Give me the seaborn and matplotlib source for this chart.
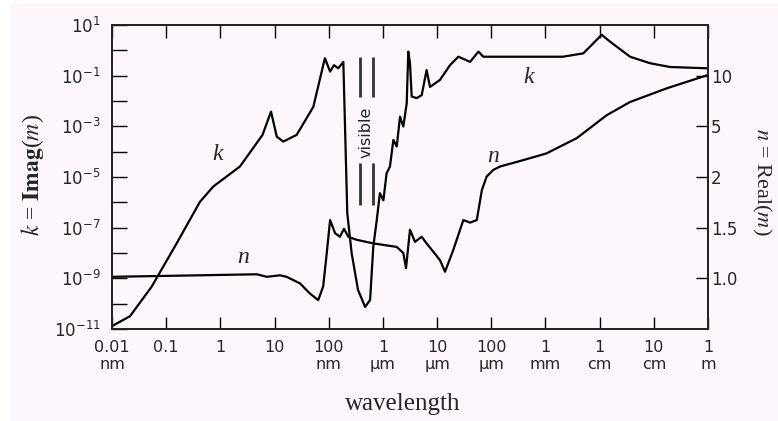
import numpy as np
import matplotlib
matplotlib.use("Agg")
import matplotlib.pyplot as plt
from matplotlib.patches import Rectangle
import seaborn as sns

# ---- data (wavelength in metres) ----
k_wavelength = [1.0e-11, 2.15e-11, 5.4e-11, 1.56e-10, 4.2e-10, 7.4e-10, 2.3e-9, 6.0e-9, 8.6e-9, 1.10e-8,
                1.45e-8, 2.56e-8, 5.2e-8, 8.5e-8, 1.06e-7, 1.25e-7, 1.50e-7, 1.86e-7, 2.2e-7, 2.65e-7,
                3.47e-7, 4.7e-7, 5.8e-7, 6.65e-7, 7.7e-7, 8.8e-7, 1.02e-6, 1.17e-6, 1.35e-6, 1.56e-6,
                1.80e-6, 2.07e-6, 2.38e-6, 2.75e-6, 2.94e-6, 3.16e-6, 3.40e-6, 4.2e-6, 5.2e-6, 6.4e-6,
                7.4e-6, 1.13e-5, 1.73e-5, 2.47e-5, 4.06e-5, 5.8e-5, 7.1e-5, 2.1e-3, 5.0e-3, 1.09e-2,
                1.56e-2, 3.64e-2, 8.5e-2, 0.199, 1.0]
k_values = [1.3e-11, 3.2e-11, 4.7e-10, 2.4e-8, 1.05e-6, 4.2e-6, 2.6e-5, 4.6e-4, 3.8e-3, 3.9e-4,
            2.5e-4, 4.6e-4, 5.9e-3, 0.49, 0.145, 0.26, 0.195, 0.35, 3.7e-7, 9.8e-9,
            3.5e-10, 7.4e-11, 1.4e-10, 1.8e-8, 2.0e-7, 2.3e-6, 1.2e-6, 1.4e-5, 2.6e-5, 2.9e-4,
            1.6e-4, 2.4e-3, 9.8e-4, 8.1e-3, 0.89, 0.31, 0.015, 0.013, 0.017, 0.166,
            0.036, 0.068, 0.26, 0.56, 0.35, 0.89, 0.56, 0.56, 0.76, 4.1,
            2.2, 0.56, 0.31, 0.22, 0.195]

n_wavelength = [1.0e-11, 4.2e-10, 4.7e-9, 7.2e-9, 1.26e-8, 1.67e-8, 2.95e-8, 4.5e-8, 6.4e-8, 7.9e-8,
                9.2e-8, 1.06e-7, 1.31e-7, 1.61e-7, 1.91e-7, 2.30e-7, 3.28e-7, 6.65e-7, 1.80e-6, 2.38e-6,
                2.67e-6, 3.16e-6, 3.91e-6, 5.2e-6, 6.4e-6, 1.13e-5, 1.40e-5, 1.99e-5, 3.05e-5, 4.06e-5,
                5.4e-5, 6.7e-5, 8.2e-5, 1.09e-4, 1.45e-4, 3.9e-4, 1.05e-3, 3.78e-3, 1.35e-2, 3.64e-2,
                0.173, 1.0]
n_values = [1.015, 1.03, 1.04, 1.015, 1.03, 1.015, 0.95, 0.85, 0.785, 0.92,
            1.25, 1.575, 1.445, 1.41, 1.49, 1.41, 1.38, 1.345, 1.31, 1.25,
            1.10, 1.48, 1.36, 1.41, 1.345, 1.18, 1.065, 1.28, 1.575, 1.55,
            1.575, 1.87, 2.02, 2.42, 2.62, 3.0, 3.4, 4.3, 6.1, 7.4,
            8.75, 10.07]

x_ticks = [1e-11, 1e-10, 1e-9, 1e-8, 1e-7, 1e-6, 1e-5, 1e-4, 1e-3, 1e-2, 1e-1, 1.0]
x_tick_labels = ["0.01\nnm", "0.1", "1", "10", "100\nnm", "1\nµm", "10\nµm",
                 "100\nµm", "1\nmm", "1\ncm", "10\ncm", "1\nm"]
k_exponents = list(range(-11, 2))
n_ticks = [1.0, 1.5, 2, 5, 10]
n_tick_labels = ["1.0", "1.5", "2", "5", "10"]
# decade of the k axis at which each n tick sits (right axis is not linear)
n_tick_decades = [-9, -7, -5, -3, -1]
visible_band = [3.8e-7, 6.5e-7]

bg = "#fdf7fd"

sns.set_style("ticks")
plt.rcParams["font.family"] = ["DejaVu Sans"]
plt.rcParams["mathtext.fontset"] = "dejavusans"

fig = plt.figure(figsize=(7.78, 4.21), dpi=100, facecolor="white")
fig.patches.append(Rectangle((10 / 778, 0), 1, 1 - 3 / 421, transform=fig.transFigure,
                             facecolor=bg, edgecolor="none", zorder=-10))
ax = fig.add_axes([112 / 778, 1 - 329 / 421, 596 / 778, 304 / 421])
ax.set_facecolor(bg)

# k curve on the left log axis
sns.lineplot(x=k_wavelength, y=k_values, ax=ax, color="black", lw=1.6, sort=False, estimator=None)
ax.set_xscale("log")
ax.set_yscale("log")
ax.set_xlim(1e-11, 1.0)
ax.set_ylim(1e-11, 1e1)

ax.set_xticks(x_ticks, labels=x_tick_labels)
ax.xaxis.set_minor_locator(matplotlib.ticker.NullLocator())
ax.set_yticks([10.0 ** e for e in k_exponents],
              labels=[f"$10^{{{e}}}$" if e % 2 else "" for e in k_exponents])
ax.yaxis.set_minor_locator(matplotlib.ticker.NullLocator())
ax.tick_params(axis="x", which="major", direction="in", length=9, width=1, top=True,
               labelsize=11.5, pad=8, color="black")
ax.tick_params(axis="y", which="major", direction="in", length=10.5, width=1, right=False,
               labelsize=12, pad=8, color="black")
for lab in ax.get_xticklabels():
    lab.set_linespacing(1.15)
for s in ax.spines.values():
    s.set_linewidth(1.3)
    s.set_color("black")

# n curve on the right axis, mapped onto the same decades
n_knots = [0.5] + n_ticks + [15.0]
pos_knots = [-11] + n_tick_decades + [1]


def n_to_pos(v):
    return np.interp(v, n_knots, pos_knots)


def pos_to_n(p):
    return np.interp(p, pos_knots, n_knots)


ax2 = ax.twinx()
ax2.set_yscale("function", functions=(n_to_pos, pos_to_n))
sns.lineplot(x=n_wavelength, y=n_values, ax=ax2, color="black", lw=1.6, sort=False, estimator=None)
ax2.set_ylim(0.5, 15.0)
ax2.set_yticks(n_ticks, labels=n_tick_labels)
ax2.yaxis.set_minor_locator(matplotlib.ticker.NullLocator())
ax2.tick_params(axis="y", direction="in", length=8.5, width=1, labelsize=12, pad=2, color="black")
ax2.set_xlim(1e-11, 1.0)
for s in ax2.spines.values():
    s.set_linewidth(1.3)

# visible band marker
for xv in visible_band:
    ax.vlines(xv, 0.0145, 0.55, color="#333333", lw=2)
    ax.vlines(xv, 7.8e-7, 3.5e-5, color="#333333", lw=2)
ax.text(np.sqrt(visible_band[0] * visible_band[1]), 6e-4, "visible", rotation=90,
        ha="center", va="center", fontsize=11.5, color="#222222")

# curve labels
serif = "Liberation Serif"
for x, y, t in [(8.7e-10, 7.4e-5, "k"), (4.8e-4, 0.081, "k"), (2.6e-9, 6.9e-9, "n"), (1.07e-4, 6.2e-5, "n")]:
    ax.text(x, y, t, family=serif, style="italic", fontsize=17, ha="center", va="center")

fig.text(403 / 778, 1 - 404 / 421, "wavelength", family=serif, fontsize=18, ha="center", va="center")
fig.text(33 / 778, 1 - 175 / 421, r"$k$ = $\mathbf{Imag}$($m$)", family=serif, fontsize=17,
         rotation=90, ha="center", va="center", math_fontfamily="stix")
fig.text(762 / 778, 1 - 182 / 421, r"$n$ = Real($m$)", family=serif, fontsize=16,
         rotation=-90, ha="center", va="center", math_fontfamily="stix")

plt.savefig("out.png", dpi=100, facecolor=fig.get_facecolor())
plt.close()
